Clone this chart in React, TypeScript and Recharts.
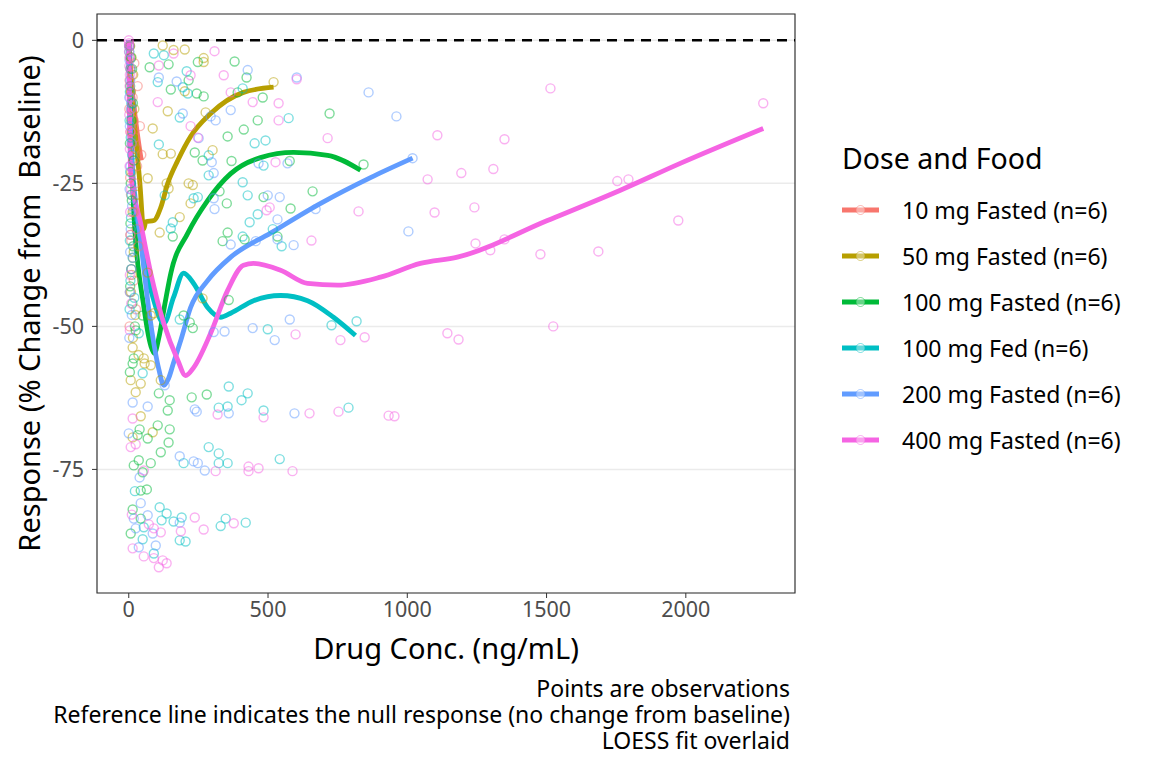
import React from "react";
import {
  ComposedChart,
  XAxis,
  YAxis,
  CartesianGrid,
  Scatter,
  Line,
  ReferenceLine,
  ReferenceArea,
} from "recharts";

document.body.style.margin = "0";

const FONT = "'Noto Sans', 'Open Sans', sans-serif";

const groups = [
  "10 mg Fasted (n=6)",
  "50 mg Fasted (n=6)",
  "100 mg Fasted (n=6)",
  "100 mg Fed (n=6)",
  "200 mg Fasted (n=6)",
  "400 mg Fasted (n=6)",
];
const colors = ["#F8766D", "#B79F00", "#00BA38", "#00BFC4", "#619CFF", "#F564E3"];

const xTicks = [0, 500, 1000, 1500, 2000];
const yTicks = [0, -25, -50, -75];
const xDomain = [-114, 2392];
const yDomain = [-96.6, 4.6];

// observations [conc, response]
const obs10 = [
  [2, -1], [4, -3], [6, -5], [3, -7], [8, -9], [10, -12], [14, -10], [18, -14], [22, -17],
  [12, -18], [16, -21], [25, -19], [30, -22], [5, -24], [8, -27], [20, -30], [28, -33],
  [35, -36], [15, -38], [10, -40], [4, -44], [24, -25], [40, -15], [45, -20], [6, -16],
  [2, -12], [12, -6], [20, -4], [32, -8], [9, -35], [18, -42], [26, -47], [3, -50],
];
const obs50 = [
  [122, -0.9], [161, -1.7], [201, -1.6], [269, -3.1], [269, -3.8], [201, -8.9], [140, -12.4],
  [276, -12.6], [520, -7.3], [86, -15.4], [122, -19.9], [151, -19.8], [301, -19.2], [68, -24.1],
  [136, -25.0], [143, -25.9], [215, -25.0], [230, -25.3], [222, -28.5], [183, -30.9], [111, -33.6],
  [68, -40.6], [265, -45.1], [79, -48.1], [90, -47.7], [14, -53.7], [7, -59.4], [25, -61.5],
  [43, -60.0], [54, -55.6], [57, -56.5], [79, -56.8], [115, -59.4], [43, -65.7], [14, -69.4],
  [86, -68.5], [5, -1], [10, -3], [16, -6], [7, -9], [20, -12], [12, -16], [25, -19], [9, -23],
  [30, -27], [14, -30], [6, -34], [18, -37], [11, -41], [8, -44], [24, -48], [15, -52], [35, -55],
];
const obs100 = [
  [248, -3.8], [380, -3.7], [143, -4.2], [75, -4.7], [423, -6.5], [215, -7.0], [151, -8.6],
  [244, -9.3], [269, -9.8], [391, -9.1], [481, -10.0], [721, -12.8], [463, -14.0], [355, -16.8],
  [413, -15.6], [237, -19.6], [265, -21.0], [369, -21.1], [578, -21.1], [843, -21.7], [326, -26.4],
  [352, -28.5], [484, -27.4], [581, -29.4], [660, -26.4], [158, -34.3], [355, -33.6], [337, -35.1],
  [416, -34.8], [534, -34.3], [359, -45.4], [25, -50.7], [197, -48.1], [219, -49.3], [230, -50.3],
  [50, -48.1], [18, -55.6], [14, -56.5], [4, -58.0], [108, -61.7], [147, -62.9], [140, -64.7],
  [226, -62.4], [280, -61.9], [39, -68.0], [68, -69.6], [104, -67.3], [147, -68.0], [143, -70.3],
  [115, -72.0], [32, -69.0], [18, -74.3], [36, -73.4], [79, -73.9], [50, -75.5], [43, -78.7],
  [65, -78.5], [14, -82.0], [43, -83.6], [7, -86.2], [3, -1], [8, -3], [12, -5], [5, -8],
  [15, -11], [9, -14], [4, -18], [18, -21], [7, -25], [11, -28], [6, -32], [16, -36], [9, -40],
  [5, -43], [13, -46], [22, -50],
];
const obs100fed = [
  [90, -2.3], [126, -2.6], [208, -5.4], [104, -7.3], [194, -8.2], [212, -9.3], [183, -13.5],
  [409, -8.4], [574, -13.6], [452, -18.0], [491, -17.5], [108, -18.2], [287, -20.1], [287, -23.6],
  [484, -21.9], [129, -27.1], [233, -27.6], [248, -27.4], [409, -24.8], [427, -27.1], [158, -31.8],
  [151, -32.9], [409, -34.3], [434, -31.8], [463, -30.4], [517, -33.0], [549, -36.0], [728, -49.8],
  [818, -49.1], [499, -50.5], [36, -51.2], [183, -48.8], [50, -58.2], [359, -60.5], [427, -61.7],
  [405, -62.9], [323, -64.2], [355, -64.0], [484, -64.7], [789, -64.2], [197, -73.9], [287, -71.1],
  [323, -72.2], [323, -73.9], [355, -73.9], [542, -73.2], [22, -78.8], [54, -85.1], [111, -81.6],
  [136, -82.7], [118, -83.9], [161, -84.1], [190, -83.4], [183, -87.4], [204, -87.6], [330, -84.9],
  [348, -83.6], [420, -84.3], [50, -87.2], [90, -89.7], [2, -2], [6, -5], [4, -9], [9, -11],
  [3, -14], [7, -17], [12, -20], [5, -23], [10, -27], [8, -31], [4, -35], [14, -38], [6, -42],
  [20, -45], [3, -47],
];
const obs200 = [
  [427, -5.2], [603, -6.5], [108, -6.5], [172, -7.2], [194, -12.8], [294, -13.3], [312, -14.0],
  [366, -12.2], [861, -9.1], [961, -13.3], [251, -17.1], [298, -21.3], [305, -23.2], [466, -21.5],
  [570, -21.5], [1019, -20.6], [305, -27.6], [308, -29.5], [499, -27.1], [542, -27.4], [671, -29.5],
  [1004, -33.4], [366, -35.7], [534, -31.3], [534, -34.8], [592, -35.8], [456, -35.1], [578, -48.8],
  [524, -52.4], [445, -50.3], [344, -50.9], [305, -51.0], [129, -60.3], [237, -64.5], [244, -64.9],
  [359, -65.2], [595, -65.2], [14, -63.3], [68, -64.0], [0, -68.7], [39, -76.4], [183, -72.7],
  [233, -73.6], [248, -73.9], [273, -75.2], [43, -80.9], [18, -83.6], [68, -83.0], [25, -85.3],
  [86, -86.2], [183, -84.3], [36, -88.6], [97, -88.3], [1, -1], [3, -3.5], [5, -7], [2, -10],
  [8, -12], [4, -15], [10, -18], [6, -22], [3, -26], [12, -29], [7, -33], [5, -37], [9, -40],
  [4, -44], [11, -48], [2, -52],
];
const obs400 = [
  [308, -1.9], [161, -2.3], [108, -4.4], [341, -6.1], [222, -6.1], [603, -6.8], [104, -10.8],
  [366, -9.1], [445, -10.8], [538, -11.0], [538, -14.0], [222, -15.0], [248, -17.0], [714, -17.1],
  [1108, -16.6], [527, -21.3], [1073, -24.3], [1194, -23.2], [495, -29.7], [506, -29.2], [825, -29.9],
  [1098, -30.1], [1241, -29.2], [656, -35.0], [1245, -35.5], [1298, -36.7], [1514, -8.4],
  [1349, -17.3], [1309, -22.5], [1754, -24.6], [1794, -24.3], [2278, -11.0], [1349, -34.8],
  [1478, -37.4], [1686, -36.9], [1973, -31.5], [1524, -50.0], [1144, -51.2], [1184, -52.3],
  [847, -51.9], [760, -52.4], [599, -51.4], [4, -50.7], [319, -65.4], [484, -65.9], [649, -65.2],
  [753, -64.9], [933, -65.6], [954, -65.7], [14, -66.1], [7, -71.1], [25, -70.6], [54, -75.2],
  [312, -75.3], [430, -74.5], [430, -75.3], [466, -74.8], [588, -75.3], [11, -82.9], [72, -84.6],
  [90, -85.3], [115, -86.0], [187, -85.8], [237, -83.4], [269, -85.5], [377, -84.4], [14, -88.8],
  [54, -90.2], [90, -90.5], [108, -92.1], [122, -90.9], [136, -91.4], [0, 0], [1, -0.5], [2, -1],
  [1, -2], [3, -3], [2, -4.5], [4, -6], [3, -8], [5, -10], [2, -13], [6, -16], [4, -19], [3, -22],
  [8, -26], [5, -30], [6, -34], [4, -41], [9, -46],
];

// LOESS fits
const fit10 = [[0, -3], [15, -10], [30, -16], [45, -21]];
const fit50 = [
  [0, 0], [10, -8], [40, -25], [54, -33], [61, -31.7], [90, -31.5], [115, -29.2], [140, -25],
  [176, -21], [222, -16.8], [294, -12.8], [412, -9.1], [520, -8.2],
];
const fit100 = [
  [0, 0], [18, -30], [54, -46.5], [80, -53.5], [92, -54.7], [108, -52], [130, -46], [151, -40.7],
  [212, -33.7], [283, -28], [366, -23.3], [473, -20.5], [592, -19.6], [714, -20.1], [832, -22.7],
];
const fit100fed = [
  [0, 0], [7, -20.5], [43, -35], [90, -45.5], [126, -49.5], [161, -44.9], [197, -40.7],
  [233, -42.5], [283, -46.7], [330, -48.4], [366, -47.7], [448, -45.5], [545, -44.6],
  [642, -45.5], [735, -48.4], [814, -51.6],
];
const fit200 = [
  [0, 0], [7, -17.5], [43, -35], [79, -49.5], [108, -57.5], [126, -60.3], [142, -59.2],
  [160, -56.5], [187, -52.4], [222, -46.7], [283, -42], [366, -37.9], [509, -33.7], [689, -28.5],
  [868, -24], [1019, -20.6],
];
const fit400 = [
  [0, 0], [7, -23.3], [43, -32], [79, -40.7], [126, -49.5], [176, -55.9], [204, -58.6],
  [233, -57.2], [294, -51.2], [355, -43.7], [412, -39.3], [448, -39], [545, -40.2], [642, -42.5],
  [750, -42.8], [904, -41.4], [1047, -39], [1180, -37.9], [1503, -31.5], [1765, -26.2],
  [1980, -21.5], [2278, -15.4],
];

const observations = [obs10, obs50, obs100, obs100fed, obs200, obs400];
const fits = [fit10, fit50, fit100, fit100fed, fit200, fit400];

const toRows = (arr: number[][]) => arr.map(([x, y]) => ({ x, y }));

const dot = (color: string) => (p: any) => (
  <circle cx={p.cx} cy={p.cy} r={4.5} fill="none" stroke={color} strokeOpacity={0.5} strokeWidth={1.4} />
);

export default function App() {
  return (
    <div style={{ position: "relative", width: 1152, height: 768, background: "#fff" }}>
      <ComposedChart
        width={1152}
        height={768}
        margin={{ top: 14, right: 357, bottom: 105, left: 0 }}
        style={{ fontFamily: FONT }}
      >
        <CartesianGrid vertical={false} stroke="#EBEBEB" strokeWidth={1.5} />
        <XAxis
          type="number"
          dataKey="x"
          domain={xDomain}
          ticks={xTicks}
          allowDataOverflow
          height={70}
          axisLine={false}
          tickSize={5}
          tickMargin={4}
          tickLine={{ stroke: "#333333" }}
          tick={{ fill: "#4D4D4D", fontSize: 21.5 }}
          label={{ value: "Drug Conc. (ng/mL)", position: "insideBottom", offset: 4, fill: "#000", fontSize: 29 }}
        />
        <YAxis
          type="number"
          dataKey="y"
          domain={yDomain}
          ticks={yTicks}
          allowDataOverflow
          width={97}
          axisLine={false}
          tickSize={5}
          tickMargin={8}
          tickLine={{ stroke: "#333333" }}
          tick={{ fill: "#4D4D4D", fontSize: 21.5 }}
          label={{
            content: (props: any) => {
              const vb = props.viewBox;
              const cy = vb.y + vb.height / 2;
              return (
                <text
                  x={28}
                  y={cy}
                  transform={`rotate(-90 28 ${cy})`}
                  textAnchor="middle"
                  dominantBaseline="central"
                  fontSize={29}
                  fill="#000"
                  style={{ whiteSpace: "pre" }}
                >
                  Response (% Change from  Baseline)
                </text>
              );
            },
          }}
        />
        <ReferenceLine y={0} stroke="#000" strokeWidth={2.5} strokeDasharray="10 7" />
        {observations.map((obs, i) => (
          <Scatter
            key={"p" + i}
            name={groups[i]}
            data={toRows(obs)}
            shape={dot(colors[i])}
            isAnimationActive={false}
          />
        ))}
        {fits.map((fit, i) => (
          <Line
            key={"f" + i}
            data={toRows(fit)}
            dataKey="y"
            type="monotone"
            stroke={colors[i]}
            strokeWidth={4.8}
            dot={false}
            activeDot={false}
            isAnimationActive={false}
          />
        ))}
        <ReferenceArea
          x1={xDomain[0]}
          x2={xDomain[1]}
          y1={yDomain[0]}
          y2={yDomain[1]}
          fill="none"
          stroke="#333333"
          strokeWidth={1.2}
        />
      </ComposedChart>
      <div style={{ position: "absolute", left: 842, top: 136, fontFamily: FONT, color: "#000" }}>
        <div style={{ fontSize: 28.5, lineHeight: "44px" }}>Dose and Food</div>
        <div style={{ marginTop: 7 }}>
          {groups.map((g, i) => (
            <div key={g} style={{ display: "flex", alignItems: "center", height: 46 }}>
              <svg width={38} height={20} style={{ marginRight: 22, flexShrink: 0 }}>
                <line x1={0} x2={37} y1={10} y2={10} stroke={colors[i]} strokeWidth={5} />
                <circle cx={18.5} cy={10} r={4.5} fill="#fff" fillOpacity={0.4} stroke={colors[i]} strokeOpacity={0.5} />
              </svg>
              <span style={{ fontSize: 23, whiteSpace: "nowrap" }}>{g}</span>
            </div>
          ))}
        </div>
      </div>
      <div
        style={{
          position: "absolute",
          right: 362,
          top: 675,
          textAlign: "right",
          fontFamily: FONT,
          fontSize: 23,
          lineHeight: "26px",
          color: "#000",
          whiteSpace: "nowrap",
        }}
      >
        <div>Points are observations</div>
        <div>Reference line indicates the null response (no change from baseline)</div>
        <div>LOESS fit overlaid</div>
      </div>
    </div>
  );
}
